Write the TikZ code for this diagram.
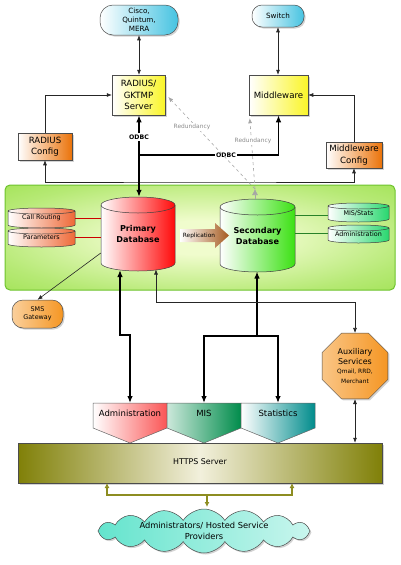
\documentclass[tikz,border=0pt]{standalone}
\usepackage{fontspec}
\setmainfont{DejaVu Sans}
\usetikzlibrary{shapes.geometric,shapes.symbols,arrows.meta,shadows}
\definecolor{cyanC}{RGB}{70,195,225}
\definecolor{yellowC}{RGB}{250,245,40}
\definecolor{orangeC}{RGB}{235,115,10}
\definecolor{orangeB}{RGB}{245,150,35}
\definecolor{redC}{RGB}{255,10,10}
\definecolor{greenC}{RGB}{60,225,20}
\definecolor{mintC}{RGB}{40,215,110}
\definecolor{salmonC}{RGB}{238,105,55}
\definecolor{brownC}{RGB}{165,90,30}
\definecolor{panelB}{RGB}{110,195,45}
\definecolor{panelO}{RGB}{135,218,45}
\definecolor{panelI}{RGB}{240,252,205}
\definecolor{admC}{RGB}{250,85,85}
\definecolor{misC}{RGB}{0,140,75}
\definecolor{statC}{RGB}{0,140,140}
\definecolor{oliveC}{RGB}{128,128,8}
\definecolor{oliveL}{RGB}{242,240,220}
\definecolor{cloudC}{RGB}{100,228,205}
\definecolor{lineG}{RGB}{40,130,40}
\colorlet{panelM}{panelI!45!panelO}
\pgfdeclareradialshading{panelsh}{\pgfpoint{0bp}{0bp}}{%
  color(0bp)=(panelI); color(8bp)=(panelI); color(28bp)=(panelM); color(50bp)=(panelO); color(72bp)=(panelO)}
\newcommand\dbcyl[6]{%
  \path[draw=black!75, line width=0.5pt, left color=white, right color=#6]
    (#1,#3) -- (#1,#4)
    arc[start angle=180, end angle=0, x radius={(#2-#1)/2}, y radius=#5]
    -- (#2,#3)
    arc[start angle=0, end angle=-180, x radius={(#2-#1)/2}, y radius=#5]
    -- cycle;
  \draw[black!75, line width=0.5pt] (#1,#3)
    arc[start angle=180, end angle=0, x radius={(#2-#1)/2}, y radius=#5];
}
\begin{document}
\begin{tikzpicture}[x=1pt, y=-1pt,
  shd/.style={drop shadow={shadow xshift=1.5pt, shadow yshift=-1.5pt, opacity=0.35}},
  boxx/.style={draw=black!70, line width=0.5pt, align=center, inner sep=1pt, shd},
  fbig/.style={font=\fontsize{8.6}{11.5}\selectfont},
  fmid/.style={font=\fontsize{7.2}{8.8}\selectfont},
  fsm/.style={font=\fontsize{6.4}{7.5}\selectfont},
  ftiny/.style={font=\fontsize{5.8}{6.8}\selectfont},
  conn/.style={line width=0.6pt, black!85},
  tip/.style={-{Latex[length=5pt,width=4pt]}},
  tips/.style={{Latex[length=5pt,width=4pt]}-{Latex[length=5pt,width=4pt]}},
  thk/.style={line width=1.3pt, black},
  ttip/.style={-{Latex[length=7pt,width=5.5pt]}},
  ttips/.style={{Latex[length=7pt,width=5.5pt]}-{Latex[length=7pt,width=5.5pt]}},
  redun/.style={dashed, line width=0.6pt, black!35, -{Latex[length=5pt,width=4pt]}},
  olv/.style={line width=1.1pt, oliveC!90, {Latex[length=5pt,width=5pt,fill=oliveC!60]}-{Latex[length=5pt,width=5pt,fill=oliveC!60]}},
]
\useasboundingbox (0,0) rectangle (400,565);

% ---------- top row ----------
\node[boxx, fmid, rounded corners=13pt, minimum width=78pt, minimum height=30pt,
      left color=white, right color=cyanC] (cisco) at (139,20) {Cisco,\\Quintum,\\MERA};
\node[boxx, fmid, rounded corners=10pt, minimum width=52pt, minimum height=22pt,
      left color=white, right color=cyanC] (switch) at (278,16) {Switch};

\node[boxx, fbig, minimum width=53pt, minimum height=40pt,
      left color=white, right color=yellowC] (radius) at (138.5,95) {RADIUS/\\GKTMP\\Server};
\node[boxx, fbig, minimum width=59pt, minimum height=40pt,
      left color=white, right color=yellowC] (mw) at (278.5,95) {Middleware};

\node[boxx, fbig, minimum width=54pt, minimum height=27pt,
      left color=white, right color=orangeC] (rcfg) at (45,146.5) {RADIUS\\Config};
\node[boxx, fbig, minimum width=56pt, minimum height=26pt,
      left color=white, right color=orangeC] (mcfg) at (354,155) {Middleware\\Config};

% ---------- green panel ----------
\path[draw=panelB, line width=1pt, rounded corners=5pt, shading=panelsh]
  (5,185) rectangle (395,290);

% databases
\dbcyl{101}{175}{205}{263}{8}{redC}
\node[inner sep=0, minimum width=74pt, minimum height=74pt, align=center,
      font=\fontsize{8.1}{11}\selectfont\bfseries] (pdb) at (138,234) {Primary\\Database};
\dbcyl{220}{295}{207}{264}{8}{greenC}
\node[inner sep=0, minimum width=75pt, minimum height=73pt, align=center,
      font=\fontsize{8.1}{11}\selectfont\bfseries] (sdb) at (257.5,235.5) {Secondary\\Database};

\dbcyl{8}{75}{211}{225}{3}{salmonC}
\node[inner sep=0, minimum width=67pt, minimum height=20pt, fsm] (cr) at (41.5,218) {Call Routing};
\dbcyl{8}{75}{231}{244}{3}{salmonC}
\node[inner sep=0, minimum width=67pt, minimum height=19pt, fsm] (par) at (41.5,237.5) {Parameters};
\dbcyl{328}{389}{206}{219}{3}{mintC}
\node[inner sep=0, minimum width=61pt, minimum height=19pt, fsm] (mis) at (358.5,213) {MIS/Stats};
\dbcyl{328}{389}{228}{240}{3}{mintC}
\node[inner sep=0, minimum width=61pt, minimum height=19pt, fsm] (adm2) at (358.5,234) {Administration};

% replication arrow
\path[draw=none, left color=white, right color=brownC]
  (180,229) -- (215,229) -- (215,223) -- (229,235.5) -- (215,248) -- (215,242) -- (180,242) -- cycle;
\node[ftiny, inner sep=0] (repl) at (199,235.5) {Replication};

\draw[line width=1pt, red!80!black] (cr.east) -- (cr.east -| pdb.west);
\draw[line width=1pt, red!80!black] (par.east) -- (par.east -| pdb.west);
\draw[line width=1pt, lineG] (mis.east -| sdb.east) ++(0,2) -- ([yshift=-2pt]mis.west);
\draw[line width=1pt, lineG] (adm2.west -| sdb.east) ++(0,-1) -- ([yshift=1pt]adm2.west);

% ---------- lower nodes ----------
\node[boxx, fsm, rounded corners=11pt, minimum width=51pt, minimum height=28pt,
      left color=orangeB!45, right color=orangeB] (sms) at (37.5,314) {SMS\\Gateway};

\node[boxx, regular polygon, regular polygon sides=8, minimum size=71pt, inner sep=0pt,
      left color=orangeB!55, right color=orangeB, font=\fontsize{8}{10}\selectfont] (aux) at (355,366)
      {Auxiliary\\Services\\[-1pt]{\fontsize{5.9}{7.5}\selectfont Qmail, RRD,}\\{\fontsize{5.9}{7.5}\selectfont Merchant}};

% chevrons
\path[draw=black!60, line width=0.5pt, left color=white, right color=admC]
  (93,403) -- (167,403) -- (167,428) -- (130,443) -- (93,428) -- cycle;
\path[draw=black!60, line width=0.5pt, left color=misC!20, right color=misC]
  (167,403) -- (241,403) -- (241,428) -- (204,443) -- (167,428) -- cycle;
\path[draw=black!60, line width=0.5pt, left color=white, right color=statC]
  (241,403) -- (315,403) -- (315,428) -- (278,443) -- (241,428) -- cycle;
\node[font=\fontsize{8.5}{10}\selectfont, inner sep=0] (adm) at (130,413) {Administration};
\node[font=\fontsize{8.5}{10}\selectfont, inner sep=0] (misn) at (204,413) {MIS};
\node[font=\fontsize{8.5}{10}\selectfont, inner sep=0] (stat) at (278,413) {Statistics};
\coordinate (admT) at (130,403);
\coordinate (misT) at (204,403);
\coordinate (statT) at (278,403);

% https
\node[draw=black!70, line width=0.5pt, minimum width=364pt, minimum height=40pt, shd,
      left color=oliveC, right color=oliveC, middle color=oliveL,
      font=\fontsize{7.9}{9.5}\selectfont] (https) at (200,463) {\raisebox{3pt}{HTTPS Server}};

% cloud
\node[cloud, cloud puffs=16, cloud puff arc=115, cloud ignores aspect, draw=black!70, line width=0.5pt,
      minimum width=212pt, minimum height=44pt, inner sep=0pt, shd,
      left color=cloudC, right color=cloudC!35, align=center,
      font=\fontsize{8.3}{11}\selectfont] (cloud) at (204,531)
      {Administrators/ Hosted Service\\Providers};

% ---------- connectors ----------
\draw[conn, tips] (cisco.south) -- (radius.north -| cisco.south);
\draw[conn, tips] (switch.south) -- (mw.north -| switch.south);
\draw[conn, tip] (rcfg.north) |- (radius.west);
\draw[conn, tip] (mcfg.north) |- (mw.east);
\coordinate (cfgbus) at (200,182);
\draw[conn, tips] (rcfg.south) |- (cfgbus) -| (mcfg.south);

% ODBC
\coordinate (odbcj) at (139,155);
\draw[thk, ttips] (radius.south -| odbcj) -- (pdb.north -| odbcj);
\draw[thk, ttip] (odbcj) -| (mw.south);
\node[fill=white, inner sep=1.5pt, font=\fontsize{6.2}{7}\selectfont\bfseries] at (139,137) {ODBC};
\node[fill=white, inner sep=1.5pt, font=\fontsize{6.2}{7}\selectfont\bfseries] at (226,155) {ODBC};

% Redundancy
\coordinate (rd) at (255,189);
\draw[line width=0.6pt, black!35, -{Latex[length=6pt,width=6pt]}] (sdb.north -| rd) -- (rd);
\draw[redun] (rd) -- ([xshift=3pt,yshift=-2pt]radius.east);
\draw[redun] (rd) -- ([xshift=1pt,yshift=-3pt]mw.south west);
\node[fill=white, inner sep=1pt, font=\fontsize{5.9}{7}\selectfont, text=black!45] at (192,127) {Redundancy};
\node[fill=white, inner sep=1pt, font=\fontsize{5.9}{7}\selectfont, text=black!45] at (253,141) {Redundancy};

% SMS
\draw[conn, tip] ([yshift=-19pt]pdb.west) -- (sms.north);

% DB to web modules
\coordinate (pb1) at (120,270);
\coordinate (j1) at (130,335);
\draw[thk, ttips] (pb1) |- (j1) -- (admT);
\coordinate (sb1) at (257,271.5);
\coordinate (j2) at (257,336);
\draw[thk, ttip] (j2) -- (sb1);
\draw[thk, ttip] (j2) -| (misT);
\draw[thk, ttip] (j2) -| (statT);

% to auxiliary
\coordinate (pb3) at (156,269.5);
\coordinate (j3) at (156,302);
\draw[conn, tips] (pb3) -- (j3) -| (aux.north);
\draw[conn, tips] (aux.south) -- (aux.south |- https.north);

% olive
\coordinate (h1) at (107,483);
\coordinate (h2) at (292,483);
\coordinate (hm) at (207,495);
\coordinate (ct) at (207,507);
\draw[olv] (h1) |- (hm) -| (h2);
\draw[line width=1.1pt, oliveC!90, -{Latex[length=5pt,width=5pt,fill=oliveC!60]}] (hm) -- (ct);
\end{tikzpicture}
\end{document}
